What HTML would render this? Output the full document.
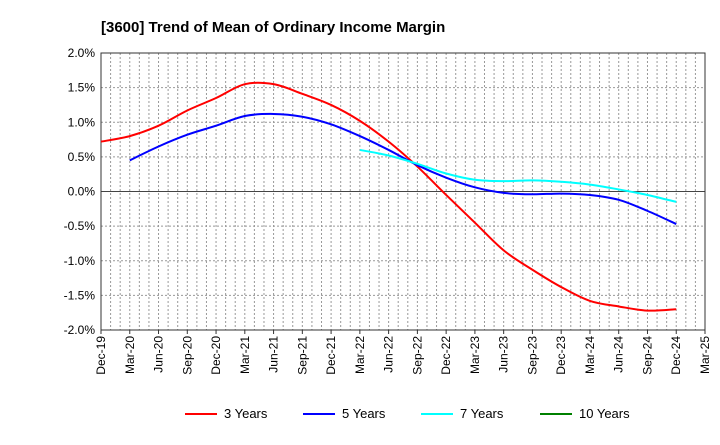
<!DOCTYPE html>
<html><head><meta charset="utf-8"><style>
body{margin:0;background:#fff;font-family:"Liberation Sans",Arial,sans-serif}
</style></head><body>
<svg width="720" height="440" xmlns="http://www.w3.org/2000/svg" font-family="Liberation Sans, Arial, sans-serif">
<text x="101" y="32" text-anchor="start" font-size="15" font-weight="bold">[3600]  Trend of Mean of Ordinary Income Margin</text>
<g id="grid"></g><g id="axes"></g><g id="series"></g><g id="legend"></g>
</svg>
<script>
const xLabels=["Dec-19","Mar-20","Jun-20","Sep-20","Dec-20","Mar-21","Jun-21","Sep-21","Dec-21","Mar-22","Jun-22","Sep-22","Dec-22","Mar-23","Jun-23","Sep-23","Dec-23","Mar-24","Jun-24","Sep-24","Dec-24","Mar-25"];
const yTicks=[2.0,1.5,1.0,0.5,0.0,-0.5,-1.0,-1.5,-2.0];
const s3=[0.72,0.80,0.95,1.17,1.35,1.55,1.55,1.41,1.25,1.02,0.72,0.36,-0.05,-0.45,-0.85,-1.13,-1.38,-1.58,-1.66,-1.72,-1.70];
const s5=[0.45,0.65,0.82,0.95,1.09,1.12,1.08,0.97,0.80,0.60,0.38,0.20,0.06,-0.02,-0.04,-0.03,-0.05,-0.12,-0.28,-0.47];
const s7=[0.60,0.52,0.40,0.26,0.17,0.15,0.16,0.14,0.10,0.03,-0.05,-0.15];
const s3Start=0,s5Start=1,s7Start=9;
const L=101,R=705,T=53,B=330;
const X=i=>L+i*(R-L)/21, Y=v=>T+(2-v)*(B-T)/4;
const NS="http://www.w3.org/2000/svg";
function mk(p,t,a){const e=document.createElementNS(NS,t);for(const k in a)e.setAttribute(k,a[k]);p.appendChild(e);return e;}
const g=document.getElementById('grid'),ax=document.getElementById('axes'),se=document.getElementById('series'),lg=document.getElementById('legend');
for(let m=1;m<63;m++){const x=L+m*(R-L)/63;const l=mk(g,'line',{x1:x,x2:x,y1:T,y2:B,stroke:'#999','stroke-dasharray':'2,2'});}
yTicks.forEach(v=>{const y=Y(v);const l=mk(g,'line',{x1:L,x2:R,y1:y,y2:y,stroke:v===0?'#444':'#999','stroke-dasharray':v===0?'none':'2,2'});
const t=mk(ax,'text',{x:L-6,y:y+4,'text-anchor':'end','font-size':12});t.textContent=v.toFixed(1)+'%';});
const fr=mk(ax,'rect',{x:L,y:T,width:R-L,height:B-T,fill:'none',stroke:'#333'});
xLabels.forEach((s,i)=>{const x=X(i);mk(ax,'line',{x1:x,x2:x,y1:B,y2:B+4,stroke:'#333'});const t=mk(ax,'text',{transform:`translate(${x+4},${B+6}) rotate(-90)`,'text-anchor':'end','font-size':12});t.textContent=s;});
function path(vals,st){const p=vals.map((v,i)=>[X(i+st),Y(v)]);let d=`M${p[0][0]},${p[0][1]}`;for(let i=0;i<p.length-1;i++){const p0=p[i-1]||p[i],p1=p[i],p2=p[i+1],p3=p[i+2]||p2;d+=` C${p1[0]+(p2[0]-p0[0])/6},${p1[1]+(p2[1]-p0[1])/6} ${p2[0]-(p3[0]-p1[0])/6},${p2[1]-(p3[1]-p1[1])/6} ${p2[0]},${p2[1]}`;}return d;}
[[s3,s3Start,'#ff0000','series-3-years'],[s5,s5Start,'#0000ff','series-5-years'],[s7,s7Start,'#00ffff','series-7-years']].forEach(([v,st,c,n])=>{const e=mk(se,'path',{d:path(v,st),fill:'none',stroke:c,'stroke-width':2});});
[['3 Years','#ff0000',185],['5 Years','#0000ff',303],['7 Years','#00ffff',421],['10 Years','#008000',540]].forEach(([s,c,x])=>{const gg=mk(lg,'g',{});mk(gg,'line',{x1:x,x2:x+32,y1:414,y2:414,stroke:c,'stroke-width':2});const t=mk(gg,'text',{x:x+39,y:418,'font-size':13});t.textContent=s;});
</script>
</body></html>
